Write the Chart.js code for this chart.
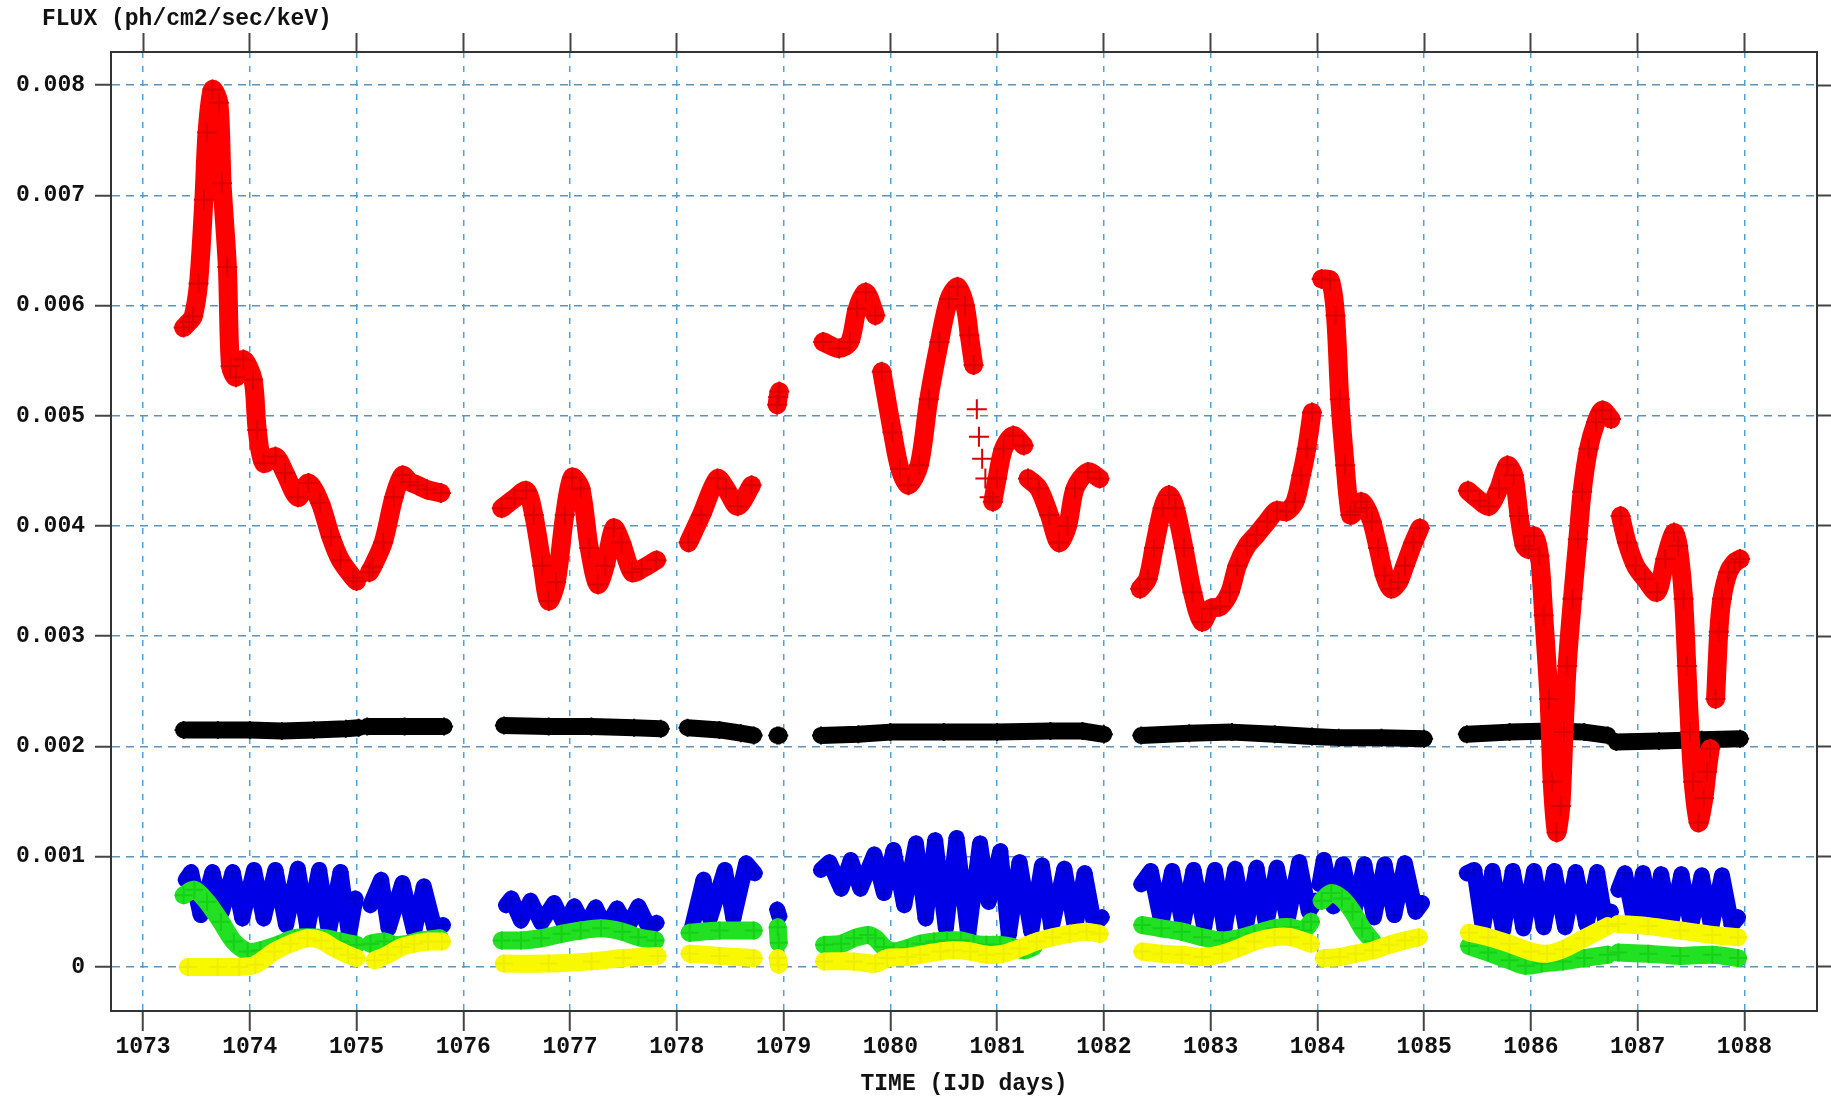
<!DOCTYPE html>
<html>
<head>
<meta charset="utf-8">
<title>Light curve</title>
<script src="https://cdn.jsdelivr.net/npm/chart.js@4.4.1/dist/chart.umd.min.js"></script>
<style>
    html, body { margin: 0; padding: 0; background: #fff; }
    #canvas_side { width: 1831px; height: 1098px; }
</style>
</head>
<body>
<div id="canvas_side"><canvas id="myChart"></canvas></div>
<script>

//axis ticks and labels
var timeTicks = [1073, 1074, 1075, 1076, 1077, 1078, 1079, 1080, 1081, 1082, 1083, 1084, 1085, 1086, 1087, 1088];
var fluxTicks = [0, 0.001, 0.002, 0.003, 0.004, 0.005, 0.006, 0.007, 0.008];
var fluxTickLabels = ['0', '0.001', '0.002', '0.003', '0.004', '0.005', '0.006', '0.007', '0.008'];

//light curves, null marks a gap between pointings
var redTime = [
    1073.38, 1073.43, 1073.47, 1073.52, 1073.57, 1073.60, 1073.65, 1073.71, 1073.74, 1073.79, 1073.82, 1073.87,
    1073.94, 1074.03, 1074.07, 1074.13, 1074.24, 1074.33, 1074.45, 1074.55, 1074.66, 1074.76, 1074.85, 1074.97, 1075.00, null,
    1075.12, 1075.15, 1075.25, 1075.35, 1075.43, 1075.50, 1075.57, 1075.66, 1075.79, null,
    1076.36, 1076.48, 1076.59, 1076.66, 1076.74, 1076.80, 1076.87, 1076.95, 1077.02, 1077.10, 1077.18, 1077.26,
    1077.33, 1077.41, 1077.48, 1077.58, 1077.67, 1077.81, null,
    1078.11, 1078.23, 1078.38, 1078.46, 1078.57, 1078.70, null,
    1078.94, 1078.95, 1078.96, null,
    1079.37, 1079.52, 1079.62, 1079.69, 1079.77, 1079.86, null,
    1079.92, 1080.02, 1080.09, 1080.17, 1080.27, 1080.36, 1080.46, 1080.55, 1080.63, 1080.70, 1080.74, 1080.78, null,
    1080.81, null, 1080.83, null, 1080.86, null, 1080.89, null, 1080.93, null,
    1080.96, 1081.00, 1081.06, 1081.15, 1081.25, null,
    1081.29, 1081.39, 1081.49, 1081.58, 1081.66, 1081.73, 1081.85, 1081.96, null,
    1082.34, 1082.41, 1082.47, 1082.55, 1082.61, 1082.67, 1082.75, 1082.83, 1082.92, 1083.00, 1083.09, 1083.18,
    1083.25, 1083.34, 1083.43, 1083.53, 1083.62, 1083.71, 1083.79, 1083.85, 1083.90, 1083.95, null,
    1084.04, 1084.12, 1084.17, 1084.21, 1084.26, 1084.31, 1084.35, 1084.41, 1084.46, 1084.51, 1084.57, 1084.63,
    1084.69, 1084.76, 1084.82, 1084.90, 1084.96, null,
    1085.41, 1085.52, 1085.61, 1085.70, 1085.78, 1085.84, 1085.89, 1085.94, 1085.98, 1086.03, 1086.08, 1086.12,
    1086.17, 1086.20, 1086.24, 1086.28, 1086.31, 1086.34, 1086.39, 1086.44, 1086.48, 1086.54, 1086.61, 1086.67, 1086.75, null,
    1086.84, 1086.90, 1086.98, 1087.07, 1087.18, 1087.26, 1087.34, 1087.38, 1087.43, 1087.46, 1087.49, 1087.52,
    1087.57, 1087.62, 1087.65, 1087.68, null,
    1087.73, 1087.76, 1087.79, 1087.85, 1087.91, 1087.96
];
var redFlux = [
    0.00580, 0.00585, 0.00590, 0.00620, 0.00696, 0.00757, 0.00796, 0.00784, 0.00711, 0.00635, 0.00545, 0.00535,
    0.00551, 0.00533, 0.00487, 0.00457, 0.00463, 0.00448, 0.00426, 0.00439, 0.00421, 0.00390, 0.00369, 0.00353, 0.00350, null,
    0.00358, 0.00363, 0.00385, 0.00426, 0.00446, 0.00440, 0.00437, 0.00433, 0.00430, null,
    0.00416, 0.00425, 0.00432, 0.00410, 0.00364, 0.00332, 0.00349, 0.00410, 0.00444, 0.00434, 0.00380, 0.00347,
    0.00364, 0.00398, 0.00385, 0.00358, 0.00361, 0.00369, null,
    0.00385, 0.00410, 0.00443, 0.00434, 0.00418, 0.00437, null,
    0.00510, 0.00517, 0.00522, null,
    0.00567, 0.00561, 0.00567, 0.00597, 0.00612, 0.00591, null,
    0.00540, 0.00485, 0.00452, 0.00437, 0.00455, 0.00515, 0.00567, 0.00606, 0.00617, 0.00600, 0.00573, 0.00546, null,
    0.00506, null, 0.00481, null, 0.00461, null, 0.00443, null, 0.00426, null,
    0.00422, 0.00443, 0.00470, 0.00482, 0.00473, null,
    0.00443, 0.00434, 0.00410, 0.00385, 0.00400, 0.00434, 0.00449, 0.00443, null,
    0.00343, 0.00352, 0.00380, 0.00416, 0.00428, 0.00416, 0.00380, 0.00340, 0.00313, 0.00325, 0.00327, 0.00340,
    0.00364, 0.00382, 0.00392, 0.00404, 0.00414, 0.00413, 0.00422, 0.00446, 0.00470, 0.00503, null,
    0.00624, 0.00623, 0.00591, 0.00515, 0.00455, 0.00410, 0.00413, 0.00422, 0.00416, 0.00404, 0.00380, 0.00355,
    0.00343, 0.00349, 0.00364, 0.00385, 0.00398, null,
    0.00432, 0.00423, 0.00418, 0.00434, 0.00455, 0.00446, 0.00409, 0.00382, 0.00379, 0.00391, 0.00373, 0.00319,
    0.00243, 0.00168, 0.00122, 0.00146, 0.00213, 0.00273, 0.00334, 0.00388, 0.00431, 0.00470, 0.00494, 0.00505, 0.00497, null,
    0.00409, 0.00385, 0.00364, 0.00352, 0.00340, 0.00370, 0.00394, 0.00382, 0.00334, 0.00273, 0.00213, 0.00168,
    0.00131, 0.00153, 0.00177, 0.00198, null,
    0.00243, 0.00304, 0.00334, 0.00358, 0.00367, 0.00370
];

var blackTime = [
    1073.38, 1073.70, 1074.00, 1074.30, 1074.60, 1074.90, 1075.02, null,
    1075.10, 1075.45, 1075.82, null,
    1076.38, 1076.80, 1077.20, 1077.60, 1077.85, null,
    1078.10, 1078.40, 1078.60, 1078.72, null,
    1078.94, 1078.96, null,
    1079.35, 1079.70, 1080.00, 1080.50, 1081.00, 1081.50, 1081.80, 1082.00, null,
    1082.35, 1082.80, 1083.20, 1083.60, 1083.95, 1084.20, 1084.60, 1085.00, null,
    1085.40, 1085.80, 1086.20, 1086.50, 1086.72, null,
    1086.80, 1087.20, 1087.60, 1087.96
];
var blackFlux = [
    0.00215, 0.00215, 0.00215, 0.00214, 0.00215, 0.00216, 0.00217, null,
    0.00218, 0.00218, 0.00218, null,
    0.00219, 0.00218, 0.00218, 0.00217, 0.00216, null,
    0.00217, 0.00215, 0.00212, 0.00210, null,
    0.00210, 0.00210, null,
    0.00210, 0.00211, 0.00213, 0.00213, 0.00213, 0.00214, 0.00214, 0.00211, null,
    0.00210, 0.00212, 0.00213, 0.00211, 0.00209, 0.00208, 0.00208, 0.00207, null,
    0.00211, 0.00213, 0.00214, 0.00213, 0.00210, null,
    0.00204, 0.00205, 0.00206, 0.00207
];

var blueTime = [
    1073.40, 1073.45, 1073.54, 1073.65, 1073.74, 1073.84, 1073.93, 1074.04, 1074.13, 1074.24, 1074.34, 1074.45,
    1074.54, 1074.65, 1074.74, 1074.85, 1074.93, 1074.99, null,
    1075.13, 1075.23, 1075.30, 1075.43, 1075.54, 1075.63, 1075.73, 1075.81, null,
    1076.40, 1076.45, 1076.54, 1076.63, 1076.73, 1076.85, 1076.95, 1077.04, 1077.14, 1077.24, 1077.33, 1077.44,
    1077.54, 1077.64, 1077.74, 1077.81, null,
    1078.14, 1078.25, 1078.31, 1078.45, 1078.53, 1078.65, 1078.73, null,
    1078.94, 1078.96, null,
    1079.35, 1079.43, 1079.54, 1079.63, 1079.72, 1079.85, 1079.94, 1080.03, 1080.13, 1080.24, 1080.33, 1080.42,
    1080.52, 1080.62, 1080.73, 1080.84, 1080.92, 1081.03, 1081.11, 1081.21, 1081.32, 1081.42, 1081.51, 1081.63,
    1081.73, 1081.82, 1081.91, 1081.98, null,
    1082.35, 1082.44, 1082.54, 1082.64, 1082.74, 1082.84, 1082.94, 1083.04, 1083.13, 1083.23, 1083.33, 1083.43,
    1083.52, 1083.62, 1083.72, 1083.83, 1083.92, 1083.98, null,
    1084.02, 1084.06, 1084.15, 1084.24, 1084.34, 1084.44, 1084.53, 1084.63, 1084.72, 1084.82, 1084.92, 1084.98, null,
    1085.40, 1085.47, 1085.55, 1085.64, 1085.74, 1085.83, 1085.93, 1086.03, 1086.12, 1086.22, 1086.32, 1086.42,
    1086.52, 1086.62, 1086.70, 1086.75, null,
    1086.82, 1086.88, 1086.97, 1087.05, 1087.14, 1087.22, 1087.31, 1087.41, 1087.50, 1087.60, 1087.69, 1087.79,
    1087.88, 1087.94
];
var blueFlux = [
    0.00079, 0.00086, 0.00047, 0.00086, 0.00050, 0.00086, 0.00044, 0.00088, 0.00044, 0.00088, 0.00038, 0.00089,
    0.00035, 0.00088, 0.00032, 0.00086, 0.00029, 0.00062, null,
    0.00056, 0.00079, 0.00035, 0.00076, 0.00032, 0.00073, 0.00035, 0.00038, null,
    0.00056, 0.00062, 0.00042, 0.00060, 0.00040, 0.00058, 0.00038, 0.00055, 0.00036, 0.00054, 0.00035, 0.00053,
    0.00036, 0.00055, 0.00035, 0.00040, null,
    0.00035, 0.00079, 0.00044, 0.00088, 0.00044, 0.00094, 0.00085, null,
    0.00052, 0.00046, null,
    0.00088, 0.00095, 0.00071, 0.00097, 0.00071, 0.00102, 0.00067, 0.00106, 0.00056, 0.00112, 0.00044, 0.00115,
    0.00035, 0.00117, 0.00029, 0.00112, 0.00059, 0.00105, 0.00029, 0.00095, 0.00032, 0.00092, 0.00035, 0.00089,
    0.00035, 0.00085, 0.00038, 0.00045, null,
    0.00075, 0.00087, 0.00040, 0.00087, 0.00038, 0.00088, 0.00036, 0.00088, 0.00035, 0.00089, 0.00036, 0.00090,
    0.00038, 0.00090, 0.00042, 0.00095, 0.00050, 0.00060, null,
    0.00075, 0.00097, 0.00055, 0.00093, 0.00048, 0.00093, 0.00045, 0.00093, 0.00047, 0.00094, 0.00050, 0.00058, null,
    0.00085, 0.00088, 0.00035, 0.00087, 0.00033, 0.00087, 0.00035, 0.00087, 0.00036, 0.00087, 0.00036, 0.00086,
    0.00038, 0.00086, 0.00040, 0.00050, null,
    0.00070, 0.00085, 0.00040, 0.00085, 0.00038, 0.00084, 0.00038, 0.00084, 0.00037, 0.00083, 0.00036, 0.00083,
    0.00038, 0.00045
];

var greenTime = [
    1073.38, 1073.48, 1073.60, 1073.73, 1073.85, 1073.98, 1074.10, 1074.26, 1074.42, 1074.54, 1074.70, 1074.85, 1075.00, null,
    1075.13, 1075.26, 1075.35, 1075.48, 1075.60, 1075.78, null,
    1076.36, 1076.54, 1076.73, 1076.92, 1077.10, 1077.29, 1077.49, 1077.64, 1077.80, null,
    1078.12, 1078.40, 1078.72, null,
    1078.945, 1078.955, null,
    1079.38, 1079.54, 1079.66, 1079.79, 1079.86, 1079.94, 1080.03, 1080.16, 1080.28, 1080.41, 1080.53, 1080.66,
    1080.78, 1080.90, 1081.03, 1081.15, 1081.25, 1081.34, null,
    1082.36, 1082.54, 1082.73, 1082.92, 1083.11, 1083.26, 1083.41, 1083.60, 1083.75, 1083.87, 1083.94, null,
    1084.04, 1084.13, 1084.23, 1084.33, 1084.42, 1084.52, null,
    1085.42, 1085.60, 1085.80, 1085.95, 1086.10, 1086.30, 1086.50, 1086.72, null,
    1086.82, 1087.10, 1087.40, 1087.70, 1087.94
];
var greenFlux = [
    0.00065, 0.00070, 0.00059, 0.00041, 0.00023, 0.00014, 0.00015, 0.00020, 0.00026, 0.00027, 0.00026, 0.00023, 0.00020, null,
    0.00021, 0.00023, 0.00020, 0.00021, 0.00024, 0.00026, null,
    0.00024, 0.00024, 0.00026, 0.00030, 0.00033, 0.00035, 0.00032, 0.00027, 0.00024, null,
    0.00031, 0.00033, 0.00033, null,
    0.00036, 0.00022, null,
    0.00020, 0.00021, 0.00026, 0.00029, 0.00026, 0.00018, 0.00014, 0.00017, 0.00021, 0.00023, 0.00024, 0.00024,
    0.00021, 0.00020, 0.00020, 0.00018, 0.00015, 0.00018, null,
    0.00038, 0.00035, 0.00032, 0.00027, 0.00024, 0.00026, 0.00030, 0.00035, 0.00036, 0.00033, 0.00041, null,
    0.00060, 0.00067, 0.00062, 0.00050, 0.00035, 0.00023, null,
    0.00019, 0.00013, 0.00006, 0.00001, 0.00003, 0.00005, 0.00008, 0.00011, null,
    0.00013, 0.00012, 0.00010, 0.00011, 0.00008
];

var yellowTime = [
    1073.42, 1073.70, 1073.90, 1074.05, 1074.23, 1074.38, 1074.54, 1074.67, 1074.79, 1074.92, 1075.00, null,
    1075.17, 1075.29, 1075.42, 1075.54, 1075.67, 1075.80, null,
    1076.38, 1076.80, 1077.20, 1077.50, 1077.82, null,
    1078.12, 1078.40, 1078.72, null,
    1078.945, 1078.955, null,
    1079.38, 1079.66, 1079.86, 1079.97, 1080.16, 1080.28, 1080.47, 1080.59, 1080.75, 1080.90, 1081.06, 1081.21,
    1081.37, 1081.52, 1081.68, 1081.84, 1081.96, null,
    1082.36, 1082.54, 1082.73, 1082.92, 1083.11, 1083.26, 1083.41, 1083.60, 1083.75, 1083.94, null,
    1084.06, 1084.21, 1084.36, 1084.52, 1084.67, 1084.82, 1084.95, null,
    1085.42, 1085.60, 1085.80, 1086.00, 1086.15, 1086.30, 1086.50, 1086.72, null,
    1086.82, 1087.10, 1087.40, 1087.70, 1087.94
];
var yellowFlux = [
    0.00000, 0.00000, 0.00000, 0.00002, 0.00014, 0.00021, 0.00026, 0.00024, 0.00017, 0.00011, 0.00008, null,
    0.00006, 0.00011, 0.00018, 0.00021, 0.00023, 0.00023, null,
    0.00003, 0.00003, 0.00005, 0.00008, 0.00010, null,
    0.00012, 0.00010, 0.00008, null,
    0.00008, 0.00002, null,
    0.00005, 0.00005, 0.00003, 0.00008, 0.00009, 0.00011, 0.00014, 0.00015, 0.00014, 0.00011, 0.00012, 0.00017,
    0.00023, 0.00027, 0.00030, 0.00032, 0.00030, null,
    0.00014, 0.00012, 0.00011, 0.00009, 0.00012, 0.00017, 0.00023, 0.00027, 0.00027, 0.00021, null,
    0.00008, 0.00009, 0.00012, 0.00015, 0.00020, 0.00024, 0.00027, null,
    0.00031, 0.00027, 0.00021, 0.00014, 0.00012, 0.00016, 0.00026, 0.00037, null,
    0.00039, 0.00037, 0.00033, 0.00029, 0.00027
];

//pairs the time and flux arrays into points for the scatter chart
function toPoints(times, flux) {
    var pts = [];
    for (var i = 0; i < times.length; i++) {
        pts.push({x: times[i], y: flux[i]});
    }
    return pts;
}

//one band of '+' markers joined by a thick line
function makeSeries(times, flux, color, crossColor, width, radius, tension) {
    return {
        data: toPoints(times, flux),
        showLine: true,
        borderColor: color,
        borderWidth: width,
        tension: tension,
        borderCapStyle: 'round',
        borderJoinStyle: 'round',
        pointStyle: 'cross',
        pointRadius: radius,
        pointBorderWidth: 2,
        pointBorderColor: crossColor,
        pointBackgroundColor: crossColor
    };
}

function setTicks(values) {
    return function (scale) {
        scale.ticks = values.map(function (v) { return {value: v}; });
    };
}

var axisFont = {family: 'Liberation Mono', size: 23, weight: 'bold', lineHeight: 1.2};
var frameColor = '#333333';
var tickColor = '#444444';

//unit label written above the flux axis, flush with the left side
var fluxUnitLabel = {
    id: 'fluxUnitLabel',
    afterDraw: function (chart) {
        var c = chart.ctx;
        c.save();
        c.font = 'bold 23px "Liberation Mono"';
        c.fillStyle = '#111111';
        c.textAlign = 'left';
        c.textBaseline = 'middle';
        c.fillText('FLUX (ph/cm2/sec/keV)', 42, 19);
        c.restore();
    }
};

var ctx = document.getElementById('myChart').getContext('2d');

var lightCurve = new Chart(ctx, {
    type: 'scatter',
    data: {
        //first dataset is drawn on top
        datasets: [
            makeSeries(redTime, redFlux, '#ff0000', '#d80000', 19, 10, 0.3),
            makeSeries(blackTime, blackFlux, '#000000', '#000000', 17, 9, 0),
            makeSeries(yellowTime, yellowFlux, '#f8f800', '#eeee00', 18, 9, 0.3),
            makeSeries(greenTime, greenFlux, '#22e022', '#16d016', 18, 9, 0.3),
            makeSeries(blueTime, blueFlux, '#0000e6', '#0000c8', 16, 8, 0)
        ]
    },
    plugins: [fluxUnitLabel],
    options: {
        responsive: true,
        maintainAspectRatio: false,
        animation: false,
        events: [],
        layout: {padding: {top: 32}},
        plugins: {
            legend: {display: false},
            tooltip: {enabled: false}
        },
        scales: {
            x: {
                type: 'linear',
                position: 'bottom',
                min: 1072.7,
                max: 1088.68,
                afterBuildTicks: setTicks(timeTicks),
                afterFit: function (scale) { scale.height = 87; },
                grid: {color: '#4aa3d8', lineWidth: 1.5, tickLength: 20, tickColor: tickColor, tickWidth: 2},
                border: {display: true, color: frameColor, width: 2, dash: [6, 8]},
                ticks: {
                    font: axisFont, color: '#111111', padding: 2, maxRotation: 0, autoSkip: false,
                    callback: function (value) { return String(value); }
                },
                title: {
                    display: true, text: 'TIME (IJD days)', font: axisFont, color: '#111111',
                    padding: {top: 0, bottom: 0}
                }
            },
            x2: {
                type: 'linear',
                position: 'top',
                min: 1072.7,
                max: 1088.68,
                afterBuildTicks: setTicks(timeTicks),
                afterFit: function (scale) { scale.height = 20; },
                grid: {drawOnChartArea: false, tickLength: 19, tickColor: tickColor, tickWidth: 2},
                border: {display: true, color: frameColor, width: 2},
                ticks: {display: false}
            },
            y: {
                type: 'linear',
                position: 'left',
                min: -0.0004,
                max: 0.0083,
                afterBuildTicks: setTicks(fluxTicks),
                afterFit: function (scale) { scale.width = 111; },
                grid: {color: '#5f93b8', lineWidth: 1.5, tickLength: 16, tickColor: tickColor, tickWidth: 2},
                border: {display: true, color: frameColor, width: 2, dash: [8, 6]},
                ticks: {
                    font: axisFont, color: '#111111', padding: 10, autoSkip: false,
                    callback: function (value, index) { return fluxTickLabels[index]; }
                }
            },
            y2: {
                type: 'linear',
                position: 'right',
                min: -0.0004,
                max: 0.0083,
                afterBuildTicks: setTicks(fluxTicks),
                afterFit: function (scale) { scale.width = 14; },
                grid: {drawOnChartArea: false, tickLength: 14, tickColor: tickColor, tickWidth: 2},
                border: {display: true, color: frameColor, width: 2},
                ticks: {display: false}
            }
        }
    }
});
</script>
</body>
</html>
